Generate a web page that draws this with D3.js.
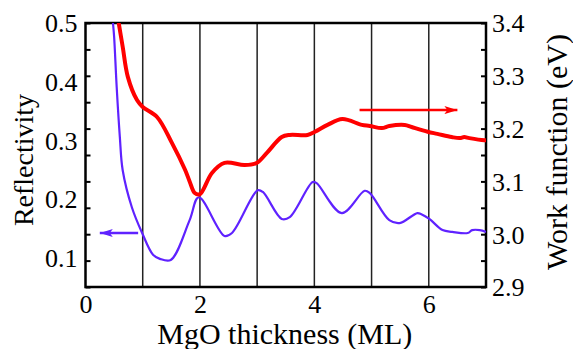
<!DOCTYPE html>
<html>
<head>
<meta charset="utf-8">
<script src="https://cdn.jsdelivr.net/npm/d3@7"></script>
<style>
  body { margin: 0; background: #fff; }
  svg text { font-family: "Liberation Serif", "Times New Roman", serif; fill: #000; }
</style>
</head>
<body>
<div class="canvas"></div>
<script>
// data
const blueX = [0.45, 0.48, 0.50, 0.545, 0.60, 0.65, 0.81, 0.99, 1.18, 1.30, 1.49, 1.82, 1.98,
  2.43, 2.56, 3.01, 3.10, 3.43, 3.57, 3.97, 4.04, 4.48, 4.88, 4.97, 5.31, 5.49, 5.80, 5.87,
  6.01, 6.24, 6.41, 6.68, 6.76, 6.89, 7.0];
const reflectivity = [0.53, 0.50, 0.477, 0.391, 0.306, 0.249, 0.186, 0.142, 0.105, 0.098, 0.096, 0.164, 0.203,
  0.137, 0.142, 0.215, 0.212, 0.166, 0.169, 0.229, 0.227, 0.176, 0.214, 0.210, 0.164, 0.159, 0.176, 0.174,
  0.166, 0.147, 0.144, 0.142, 0.147, 0.147, 0.144];

const redX = [0.55, 0.65, 0.74, 0.90, 1.00, 1.25, 1.51, 1.74, 1.82, 1.91, 2.0, 2.21, 2.43, 2.78,
  2.99, 3.17, 3.43, 3.57, 3.88, 4.01, 4.23, 4.49, 4.83, 4.97, 5.18, 5.31, 5.58, 5.70, 5.98,
  6.15, 6.40, 6.54, 6.62, 6.71, 6.97, 7.0];
const workFunction = [3.42, 3.355, 3.298, 3.254, 3.241, 3.222, 3.173, 3.122, 3.10, 3.078, 3.076, 3.116, 3.135, 3.131,
  3.135, 3.154, 3.184, 3.188, 3.188, 3.194, 3.207, 3.218, 3.207, 3.205, 3.201, 3.205, 3.207, 3.203, 3.194,
  3.190, 3.184, 3.182, 3.184, 3.182, 3.178, 3.178];

const xTickLabels = [0, 2, 4, 6];
const gridX = [1, 2, 3, 4, 5, 6];
const leftTickLabels = [0.1, 0.2, 0.3, 0.4, 0.5];
const rightTickLabels = [2.9, 3.0, 3.1, 3.2, 3.3, 3.4];

// arrows: [x0, x1, y]
const blueArrow = [0.92, 0.25, 0.142];
const redArrow = [4.79, 6.5, 3.235];

// chart setup
const chartSet = { width: 573, height: 349 };
const margin = { top: 23, right: 87, bottom: 62, left: 85.5 };
const w = chartSet.width - margin.left - margin.right;
const h = chartSet.height - margin.top - margin.bottom;
const blue = "#5f22ff";
const red = "#ff0000";

const svg = d3.select(".canvas").append("svg")
  .attr("width", chartSet.width)
  .attr("height", chartSet.height);

const g = svg.append("g").attr("transform", `translate(${margin.left}, ${margin.top})`);

const x = d3.scaleLinear().domain([0, 7]).range([0, w]);
const yL = d3.scaleLinear().domain([0.05, 0.5]).range([h, 0]);
const yR = d3.scaleLinear().domain([2.9, 3.4]).range([h, 0]);

g.append("clipPath").attr("id", "clip")
  .append("rect").attr("width", w).attr("height", h);

// vertical grid lines
g.selectAll(".grid").data(gridX).enter().append("line")
  .attr("class", "grid")
  .attr("x1", (d) => x(d)).attr("x2", (d) => x(d))
  .attr("y1", 0).attr("y2", h)
  .attr("stroke", "#222").attr("stroke-width", 1.5);

// tick marks (inward, same marks on both sides)
const minor = yR.ticks(10);
const leftTicks = g.append("g")
  .call(d3.axisLeft(yR).tickValues(minor).tickSize(-5).tickFormat(""));
const rightTicks = g.append("g").attr("transform", `translate(${w},0)`)
  .call(d3.axisRight(yR).tickValues(minor).tickSize(-5).tickFormat(""));
[leftTicks, rightTicks].forEach((a) => {
  a.select(".domain").remove();
  a.selectAll("line").attr("stroke", "#000").attr("stroke-width", 2);
});

// left labels
const leftAxis = g.append("g")
  .call(d3.axisLeft(yL).tickValues(leftTickLabels).tickSize(0).tickPadding(8).tickFormat(d3.format(".1f")));
leftAxis.select(".domain").remove();
leftAxis.selectAll("text").style("font-size", "26px").attr("dy", "0.34em");

// right labels
const rightAxis = g.append("g").attr("transform", `translate(${w},0)`)
  .call(d3.axisRight(yR).tickValues(rightTickLabels).tickSize(0).tickPadding(6).tickFormat(d3.format(".1f")));
rightAxis.select(".domain").remove();
rightAxis.selectAll("text").style("font-size", "26px").attr("dy", "0.34em");

// bottom labels
const bottomAxis = g.append("g").attr("transform", `translate(0,${h})`)
  .call(d3.axisBottom(x).tickValues(xTickLabels).tickSize(0).tickPadding(8).tickFormat(d3.format("d")));
bottomAxis.select(".domain").remove();
bottomAxis.selectAll("text").style("font-size", "26px");

// frame
g.append("rect")
  .attr("width", w).attr("height", h)
  .attr("fill", "none").attr("stroke", "#000").attr("stroke-width", 2.5);

// curves
const blueLine = d3.line()
  .x((d, i) => x(blueX[i])).y((d) => yL(d))
  .curve(d3.curveCatmullRom.alpha(0.5));
const redLine = d3.line()
  .x((d, i) => x(redX[i])).y((d) => yR(d))
  .curve(d3.curveCatmullRom.alpha(0.5));

const curves = g.append("g").attr("clip-path", "url(#clip)");
curves.append("path").attr("d", blueLine(reflectivity))
  .attr("fill", "none").attr("stroke", blue).attr("stroke-width", 2.2);
curves.append("path").attr("d", redLine(workFunction))
  .attr("fill", "none").attr("stroke", red).attr("stroke-width", 4)
  .attr("stroke-linejoin", "round");

// arrows
const defs = svg.append("defs");
const marker = (id, col) => defs.append("marker")
  .attr("id", id).attr("viewBox", "0 0 13 8").attr("refX", 13).attr("refY", 4)
  .attr("markerWidth", 13).attr("markerHeight", 8).attr("markerUnits", "userSpaceOnUse")
  .attr("orient", "auto")
  .append("path").attr("d", "M0,0 L13,4 L0,8 L3,4 Z").attr("fill", col);
marker("headBlue", blue);
marker("headRed", red);

g.append("line")
  .attr("x1", x(blueArrow[0])).attr("x2", x(blueArrow[1]))
  .attr("y1", yL(blueArrow[2])).attr("y2", yL(blueArrow[2]))
  .attr("stroke", blue).attr("stroke-width", 2.5)
  .attr("marker-end", "url(#headBlue)");
g.append("line")
  .attr("x1", x(redArrow[0])).attr("x2", x(redArrow[1]))
  .attr("y1", yR(redArrow[2])).attr("y2", yR(redArrow[2]))
  .attr("stroke", red).attr("stroke-width", 2.5)
  .attr("marker-end", "url(#headRed)");

// axis titles
svg.append("text")
  .attr("x", margin.left + w / 2 - 1).attr("y", 344)
  .attr("text-anchor", "middle").style("font-size", "30px")
  .text("MgO thickness (ML)");
svg.append("text")
  .attr("transform", "translate(33,160) rotate(-90)")
  .attr("text-anchor", "middle").style("font-size", "28px")
  .text("Reflectivity");
svg.append("text")
  .attr("transform", "translate(567,152) rotate(-90)")
  .attr("text-anchor", "middle").style("font-size", "30px")
  .text("Work function (eV)");
</script>
</body>
</html>
